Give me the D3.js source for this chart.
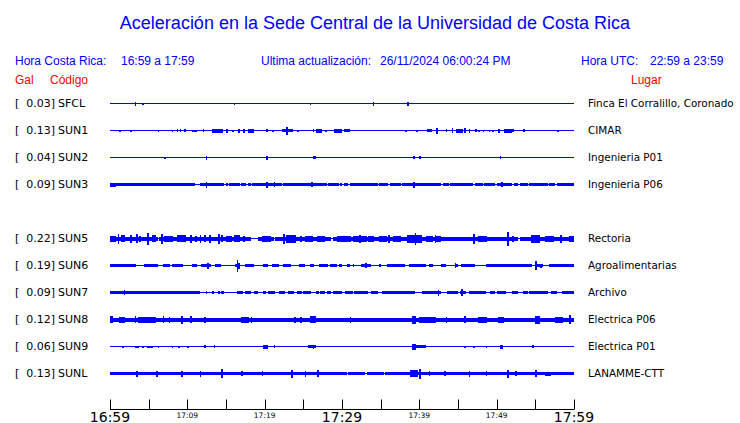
<!DOCTYPE html>
<html><head><meta charset="utf-8">
<script src="https://cdn.jsdelivr.net/npm/d3@7"></script>
<style>body{margin:0;background:#fff}svg{display:block}</style>
</head><body>
<script>
// ---- data ----
const codes  = ["SFCL","SUN1","SUN2","SUN3","SUN5","SUN6","SUN7","SUN8","SUN9","SUNL"];
const gal    = [0.03,0.13,0.04,0.09,0.22,0.19,0.09,0.12,0.06,0.13];
const places = ["Finca El Corralillo, Coronado","CIMAR","Ingenieria P01","Ingenieria P06","Rectoria","Agroalimentarias","Archivo","Electrica P06","Electrica P01","LANAMME-CTT"];
const slots  = [0,1,2,3,5,6,7,8,9,10];
// background (noise) amplitude of each trace, relative units
const bases  = [0.5,0.5,0.5,1.5,2,1.5,1.5,2,0.5,1.5];
const tickMinutes = [0,5,10,15,20,25,30,35,40,45,50,55,60];
const tickLabels = {0:"16:59",10:"17:09",20:"17:19",30:"17:29",40:"17:39",50:"17:49",60:"17:59"};
const bigLabels = [0,30,60];

// events: [minute, amplitude] or [startMinute, endMinute, amplitude]
const evSFCL = [[3.3,2],[4.2,1],[16.1,1],[25.8,1],[34.0,2],[38.4,2]];
const evSUN1 = [[1.33,1],[2.75,1],[6.23,1],[8.04,1],[8.68,1.2],[9.12,1.2],[9.72,1.2],[10.7,11.0,1],[12.1,1.2],[13.2,14.4,2],[15.1,2],[15.8,1],[16.6,2],[17.2,2],[17.8,18.5,2],[20.3,1.5],[21.1,1],[22.2,22.6,1.5],[22.9,4],[23.1,23.5,1.5],[24.2,1],[26.2,1.5],[26.6,27.2,2],[27.8,1],[29.0,29.9,2],[30.2,30.8,1.5],[38.3,1],[39.6,1],[41.1,41.5,1.5],[42.2,3],[43.5,1.5],[44.3,2.5],[44.9,45.4,2],[45.8,2.5],[46.4,2],[47.2,1.5],[47.7,1],[48.2,1],[49.1,1],[49.4,1],[50.2,2],[51.1,51.8,2],[52.0,1.5],[53.5,1.5],[57.8,1]];
const evSUN2 = [[7.1,1],[12.4,2],[20.2,2],[26.2,26.5,1.5],[39.3,1.5],[40.0,1.5],[50.5,1.5]];
const evSUN3 = [[0,0.6,2],[12.4,3],[20.2,3],[21.2,2.5],[26.1,2.5],[39.3,3],[50.6,2.5]];
const gapSUN3 = [[11.1,11.4],[14.8],[15.3],[16.8],[17.6],[18.3],[22.2],[28.0],[29.7],[30.1],[30.8],[34.7],[36.1],[37.6],[42.8],[43.9],[47.1],[48.2],[49.9],[52.0],[52.9],[54.0],[56.6],[57.6]];
const evSUN5 = [[0,0.65,3],[1.07,5],[1.5,1.9,3.5],[2.6,4],[3.4,4.5],[3.9,3],[4.9,6],[5.4,5.8,3.5],[6.7,5],[7.1,8.0,3],[8.6,9.7,3.5],[10.5,4],[11.0,3],[11.6,4],[12.3,3.5],[12.9,4],[14.0,5],[14.4,3.5],[15.1,15.7,3],[16.1,16.6,3.5],[17.2,3],[19.6,20.6,3],[22.4,5],[22.8,23.9,4],[24.7,3],[25.2,26.0,3],[26.9,27.7,3],[29.5,3],[29.7,31.0,3],[31.4,33.0,3],[32.3,4],[33.4,34.0,3],[34.8,35.6,3],[36.1,4],[36.6,37.4,3],[38.5,40.2,4],[39.5,6],[40.9,41.6,3],[42.1,4],[42.3,42.6,3],[47.1,5],[47.7,48.6,3],[51.4,7],[52.0,3],[54.4,55.5,4],[56.3,57.2,3],[58.3,4],[59.4,60,3]];
const gapSUN5 = [[6.2],[18.3,19.1],[21.3],[28.6],[52.9]];
const evSUN6 = [[12.7,3],[16.4,6],[16.6,3],[33.1,2.5],[44.6,2.5],[55.1,4.5],[55.7,2]];
const gapSUN6 = [[3.5,4.2],[6.3,6.6],[7.8,7.9],[9.5,10.5],[11.3,11.7],[13.1,13.5],[14.5,16.1],[16.9,17.3],[18.6,19.7],[20.5,20.8],[21.8,22.3],[23.5,24.2],[25.3,25.7],[26.5,26.8],[28.2],[29.4],[30.0,30.5],[31.1,31.3],[31.6,32.2],[33.8,34.7],[35.1,35.6],[38.2,38.4],[40.8,41.0],[41.8,42.7],[43.4,44.4],[45.1,45.3],[47.2,48.5],[54.7,55.0],[56.0,56.7]];
const evSUN7 = [[1.9,2.5],[42.5,3],[45.5,3.5]];
const gapSUN7 = [[11.6,12.3],[12.7,13.0],[13.5,13.8],[14.3],[14.9,15.5],[15.7,16.3],[17.2],[18.3,18.5],[19.2,19.6],[20.3],[21.5,21.7],[22.6,22.9],[23.9,24.1],[24.8],[26.0,26.4],[27.1],[27.8],[28.6],[30.1,30.3],[31.5],[33.5,33.6],[34.7,35.0],[39.4,40.2],[42.8,43.4],[45.0],[46.0,46.2],[48.6,49.0],[49.8],[51.2,51.8],[52.8,53.2],[54.1],[56.6,56.9],[57.8,58.3]];
const evSUN8 = [[0,0.2,3.5],[1.3,1.9,3],[3.2,3.5],[3.7,5.8,3],[6.9,3.5],[7.7,3],[9.3,4],[10.5,3.5],[12.3,3],[17.0,17.8,3],[18.3,3],[23.9,3],[24.7,3],[25.8,26.5,3.5],[31.0,3],[39.1,39.4,4],[40.0,42.1,3],[43.4,3],[45.9,3.5],[47.7,48.6,3],[50.3,50.8,3],[55.1,55.5,4],[57.6,58.5,3],[59.4,4.5]];
const evSUN9 = [[1.7,1],[3.3,3.7,1],[4.3,1],[4.9,5.4,1],[6.2,1],[8.0,1],[8.9,1],[10.1,1],[12.3,1.5],[13.4,1.5],[19.8,20.2,2],[21.2,1.5],[25.6,26.5,1.5],[26.2,2],[39.1,39.5,3],[39.7,40.6,1.5],[45.8,1],[47.0,1],[48.6,1],[50.4,50.7,2],[54.6,1.5]];
const evSUNL = [[3.5,3],[6.1,3],[9.3,3],[11.7,3],[14.4,4.5],[17.0,2.5],[19.6,2.5],[23.5,4],[25.3,3],[26.9,3.5],[38.9,39.6,3.5],[40.0,5],[41.3,2.5],[43.2,2.5],[46.5,3],[48.6,2.5],[51.5,4],[52.5,2.5],[55.0,3.5],[56.3,56.8,2]];
const gapSUNL = [[30.6],[33.0],[35.5]];

const events = [evSFCL,evSUN1,evSUN2,evSUN3,evSUN5,evSUN6,evSUN7,evSUN8,evSUN9,evSUNL];
const gaps   = [[],[],[],gapSUN3,gapSUN5,gapSUN6,gapSUN7,[],[],gapSUNL];

// ---- chart ----
const W=740,H=423;
const svg=d3.select("body").append("svg").attr("width",W).attr("height",H);
const blue="#0000ff", red="#ff0000";
const sans="Liberation Sans, Arial, sans-serif", dv="DejaVu Sans, sans-serif";

const x=d3.scaleLinear().domain([0,60]).range([110,574]);
const row=d3.scaleLinear().domain([0,10]).range([103,373]);
const amp=d3.scaleLinear().domain([-1,1]).range([1,-1]); // relative units -> px offset

svg.append("text").attr("x",375).attr("y",29).attr("text-anchor","middle")
  .attr("font-family",sans).attr("font-size",18).attr("fill",blue)
  .text("Aceleración en la Sede Central de la Universidad de Costa Rica");

const hdr=[["Hora Costa Rica:",15],["16:59 a 17:59",121],["Ultima actualización:",261],["26/11/2024 06:00:24 PM",380],["Hora UTC:",581],["22:59 a 23:59",650]];
svg.selectAll("text.hdr").data(hdr).join("text").attr("class","hdr")
  .attr("x",d=>d[1]).attr("y",65).attr("font-family",sans).attr("font-size",12).attr("fill",blue).text(d=>d[0]);
const hdr2=[["Gal",15],["Código",50],["Lugar",631]];
svg.selectAll("text.hdr2").data(hdr2).join("text").attr("class","hdr2")
  .attr("x",d=>d[1]).attr("y",84).attr("font-family",sans).attr("font-size",12).attr("fill",red).text(d=>d[0]);

const dt=0.2, nb=Math.round(60/dt);
function envelope(i){
  const env=new Array(nb).fill(bases[i]);
  const idx=t=>Math.max(0,Math.min(nb-1,Math.floor(t/dt+1e-9)));
  gaps[i].forEach(g=>{const a=idx(g[0]),b=idx(g.length>1?g[1]:g[0]);for(let k=a;k<=b;k++)env[k]=0.5;});
  events[i].forEach(e=>{const t0=e[0],t1=e.length>2?e[1]:e[0],A=e[e.length-1];
    const a=idx(t0),b=idx(t1);for(let k=a;k<=b;k++)env[k]=Math.max(env[k],A);});
  const pts=env.map((v,k)=>({t:k*dt,v}));
  pts.push({t:60,v:env[nb-1]});
  return pts;
}

const rows=svg.selectAll("g.row").data(codes.map((c,i)=>i)).join("g").attr("class","row");
rows.each(function(i){
  const g=d3.select(this), y0=row(slots[i])+0.5;
  const area=d3.area().curve(d3.curveStepAfter).x(d=>x(d.t))
     .y0(d=>y0+amp(-d.v)).y1(d=>y0+amp(d.v));
  g.append("path").datum(envelope(i)).attr("d",area).attr("fill",blue).attr("shape-rendering","crispEdges");
  const ty=row(slots[i])+4;
  g.append("text").attr("x",15).attr("y",ty).attr("font-family",dv).attr("font-size",11).attr("fill","#000").text("[");
  g.append("text").attr("x",55).attr("y",ty).attr("text-anchor","end").attr("font-family",dv).attr("font-size",11).attr("fill","#000").text(gal[i].toFixed(2)+"]");
  g.append("text").attr("x",58).attr("y",ty).attr("font-family",dv).attr("font-size",11).attr("fill","#000").text(codes[i]);
  g.append("text").attr("x",588).attr("y",ty).attr("font-family",dv).attr("font-size",10.4).attr("fill","#000").text(places[i]);
});

// time axis
const ax=svg.append("g").attr("transform","translate(0,409.5)");
ax.append("line").attr("x1",x(0)).attr("x2",x(60)).attr("stroke","#000");
ax.selectAll("line.t").data(tickMinutes).join("line").attr("class","t")
  .attr("x1",d=>Math.round(x(d))+0.5).attr("x2",d=>Math.round(x(d))+0.5).attr("y1",0).attr("y2",-10).attr("stroke","#000");
ax.selectAll("text").data(Object.keys(tickLabels).map(Number)).join("text")
  .attr("x",d=>x(d)).attr("y",d=>bigLabels.includes(d)?12:8).attr("text-anchor","middle")
  .attr("font-family",dv).attr("font-size",d=>bigLabels.includes(d)?14:7.5).attr("fill","#000")
  .text(d=>tickLabels[d]);
</script>
</body></html>
